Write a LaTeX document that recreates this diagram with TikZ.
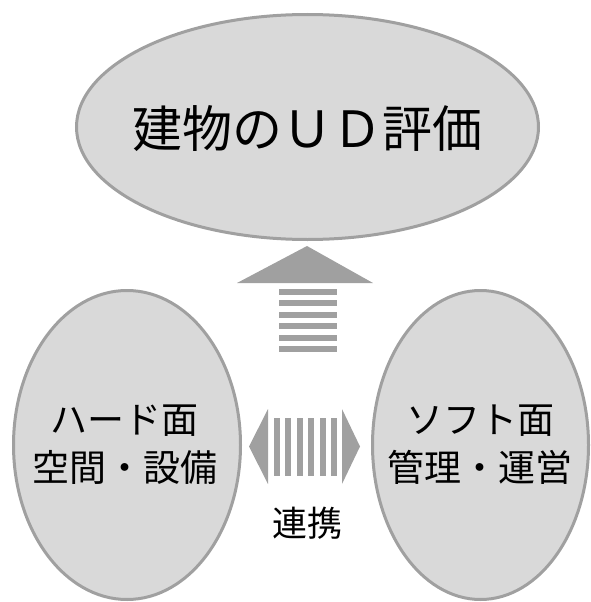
\documentclass[tikz,border=0pt]{standalone}
\usepackage{fontspec}
\setmainfont{Noto Sans CJK JP}
\usetikzlibrary{shapes.geometric}
\definecolor{bubblefill}{HTML}{D9D9D9}
\definecolor{bubbleline}{HTML}{A0A0A0}
\definecolor{arrowgray}{HTML}{A0A0A0}
\tikzset{
  bubble/.style={ellipse, draw=bubbleline, fill=bubblefill, line width=3pt, inner sep=0pt},
  bigtext/.style={font=\fontsize{50}{60}\selectfont, text=black, inner sep=0pt},
  sidetext/.style={font=\fontsize{37}{48}\selectfont, text=black, align=center, inner sep=0pt},
  linktext/.style={font=\fontsize{35}{42}\selectfont, text=black, inner sep=0pt},
  arrowpart/.style={fill=arrowgray, draw=none}
}
\begin{document}
\begin{tikzpicture}[x=1pt, y=-1pt]
\useasboundingbox (0,0) rectangle (591,602);
% top ellipse
\node[bubble, minimum width=462pt, minimum height=225pt] (top) at (307.5,127) {};
\node[bigtext] (toptext) at (307.5,129) {建物のＵＤ評価};
% lower ellipses
\node[bubble, minimum width=227pt, minimum height=309pt] (hard) at (127,445) {};
\node[sidetext] (hardtext) at (124.5,445) {ハード面\\空間・設備};
\node[bubble, minimum width=216pt, minimum height=309pt] (soft) at (480.5,445) {};
\node[sidetext] (softtext) at (480,445) {ソフト面\\管理・運営};
% up arrow
\coordinate (upapex) at (307,246);
\fill[arrowpart] (237,283) -- (upapex) -- (373,283) -- cycle;
\foreach \y in {289,300.4,311.8,323.2,334.6,346}{
  \fill[arrowpart] (279,\y) rectangle (337,\y+6);
}
% double arrow
\coordinate (lapex) at (249,446.5);
\coordinate (rapex) at (360,446.5);
\fill[arrowpart] (lapex) -- (268,409) -- (268,484) -- cycle;
\fill[arrowpart] (rapex) -- (342,409) -- (342,484) -- cycle;
\foreach \x in {274,285.4,296.8,308.2,319.6,331}{
  \fill[arrowpart] (\x,418) rectangle (\x+6,476);
}
\node[linktext] (link) at (307,523) {連携};
\end{tikzpicture}
\end{document}
